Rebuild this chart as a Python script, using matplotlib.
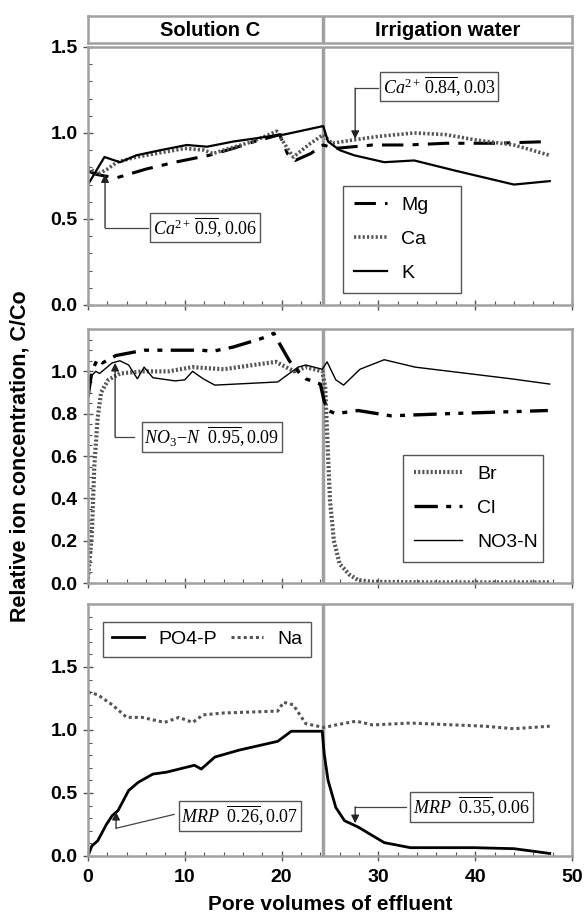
import matplotlib
matplotlib.use("Agg")
import matplotlib.pyplot as plt
from matplotlib.ticker import MultipleLocator

plt.rcParams["font.family"] = ["Liberation Sans", "DejaVu Sans"]
plt.rcParams["mathtext.fontset"] = "custom"
plt.rcParams["mathtext.rm"] = "Liberation Serif"
plt.rcParams["mathtext.it"] = "Liberation Serif:italic"
plt.rcParams["mathtext.bf"] = "Liberation Serif:bold"

# top panel: cations
k_x = [0, 1.7, 3.3, 5, 7.5, 10.2, 12.3, 15, 17.5, 19.8, 20.2, 24.3, 24.8, 26, 27.5, 30.6, 33.7, 38, 44, 47.7]
k_y = [0.70, 0.86, 0.83, 0.87, 0.90, 0.93, 0.92, 0.95, 0.97, 0.99, 0.99, 1.04, 0.95, 0.90, 0.87, 0.83, 0.84, 0.78, 0.70, 0.72]
mg_x = [0, 0.8, 1.7, 3, 6, 9, 12.5, 15, 17.2, 19.8, 20.6, 21.4, 23, 24.3, 25.5, 29.4, 33, 37, 42, 47.7]
mg_y = [0.78, 0.76, 0.75, 0.74, 0.79, 0.83, 0.87, 0.91, 0.95, 0.99, 0.88, 0.84, 0.88, 0.93, 0.91, 0.93, 0.93, 0.94, 0.94, 0.95]
ca_x = [0, 1, 2, 3, 5, 8, 10, 12, 12.9, 14, 17, 19.5, 20.6, 21.2, 23, 24.3, 25.2, 27.5, 30, 33.7, 37, 40, 44, 47.7]
ca_y = [0.80, 0.76, 0.79, 0.83, 0.86, 0.89, 0.91, 0.90, 0.88, 0.90, 0.95, 1.01, 0.91, 0.86, 0.94, 0.99, 0.94, 0.96, 0.98, 1.00, 0.99, 0.96, 0.93, 0.87]

# middle panel: anions
no3_x = [0, 0.2, 0.8, 1.2, 2.5, 3.3, 4.2, 5.1, 5.8, 6.7, 9, 10, 10.8, 11.9, 13.1, 19.6, 21.7, 22.5, 24.2, 24.7,
         25.6, 26.4, 28.1, 30.6, 33.8, 43.7, 47.7]
no3_y = [0.90, 0.97, 1.0, 0.99, 1.04, 1.05, 1.03, 0.965, 1.02, 0.97, 0.955, 0.96, 1.0, 0.965, 0.935, 0.95, 1.02, 1.03,
         1.01, 1.045, 0.96, 0.935, 1.01, 1.055, 1.02, 0.965, 0.94]
cl_x = [0, 0.4, 1, 1.5, 2.9, 5.8, 9, 11.7, 12.9, 15, 17.9, 19.2, 19.8, 20.8, 21.7, 22.5, 24, 24.4, 24.8, 25.6, 27.9,
        31.3, 37.1, 47.5]
cl_y = [0.88, 1.0, 1.06, 1.04, 1.075, 1.10, 1.10, 1.10, 1.095, 1.115, 1.155, 1.18, 1.13, 1.05, 1.0, 0.965, 0.94, 0.86,
        0.815, 0.80, 0.815, 0.79, 0.80, 0.815]
br_x = [0, 0.4, 0.65, 1, 1.35, 2.1, 3.3, 5.6, 8.3, 10.8, 14, 19.4, 21.3, 22.5, 24.2, 24.5, 24.7, 25, 25.4, 26, 27,
        27.9, 29.4, 35, 47.7]
br_y = [0.02, 0.23, 0.55, 0.78, 0.90, 0.96, 0.99, 1.0, 1.0, 1.02, 1.01, 1.045, 1.0, 1.02, 1.0, 0.93, 0.71, 0.39, 0.20,
        0.09, 0.04, 0.014, 0.006, 0.003, 0.003]

# bottom panel
po4_x = [0, 0.4, 1, 1.9, 2.5, 3.1, 4.2, 5.2, 6.7, 8.1, 11, 11.7, 13.1, 15.6, 19.6, 21, 24.2, 24.4, 24.8, 25.6, 26.5,
         27.9, 30.6, 33.3, 39.8, 44, 47.7]
po4_y = [0, 0.08, 0.12, 0.25, 0.32, 0.36, 0.52, 0.585, 0.65, 0.665, 0.72, 0.69, 0.785, 0.84, 0.91, 0.99, 0.99, 0.81,
         0.60, 0.385, 0.28, 0.23, 0.106, 0.066, 0.066, 0.058, 0.02]
na_x = [0, 1, 2.5, 4, 5.6, 7.9, 9.4, 10.8, 11.9, 14, 19.6, 20.2, 21.2, 22.5, 24.4, 25.6, 27.7, 29.4, 33.3, 41, 44, 47.7]
na_y = [1.30, 1.28, 1.2, 1.10, 1.10, 1.06, 1.10, 1.06, 1.12, 1.135, 1.15, 1.22, 1.20, 1.05, 1.02, 1.04, 1.07, 1.04,
        1.055, 1.03, 1.01, 1.03]

switch_pv = 24.3
phases = ["Solution C", "Irrigation water"]

GRAY = "#a0a0a0"
L, W = 0.1504, 0.8274

fig = plt.figure(figsize=(5.85, 9.15), dpi=100)
ax1 = fig.add_axes([L, 0.6667, W, 0.2820])
ax2 = fig.add_axes([L, 0.3628, W, 0.2776])
ax3 = fig.add_axes([L, 0.0645, W, 0.2754])
axh = fig.add_axes([L, 0.9530, W, 0.0295])


def style(ax, ymax, yticks, yminor, xlabels=False):
    ax.set_xlim(0, 50)
    ax.set_ylim(0, ymax)
    ax.xaxis.set_major_locator(MultipleLocator(10))
    ax.xaxis.set_minor_locator(MultipleLocator(2))
    ax.set_yticks(yticks)
    ax.yaxis.set_minor_locator(MultipleLocator(yminor))
    ax.tick_params(which="major", direction="inout", length=7, width=1, color="#555555",
                   labelsize=14)
    ax.tick_params(axis="y", which="major", pad=4)
    ax.tick_params(axis="x", which="major", pad=6)
    ax.tick_params(which="minor", direction="in", length=3, width=0.8, color="#555555")
    for lab in ax.get_xticklabels() + ax.get_yticklabels():
        lab.set_fontweight("bold")
    if not xlabels:
        ax.tick_params(axis="x", labelbottom=False)
    for s in ax.spines.values():
        s.set_color(GRAY)
        s.set_linewidth(1.8)
    ax.axvline(switch_pv, color=GRAY, lw=2.5, zorder=1)


def note(ax, text, xy_box, corner, tip):
    # boxed label joined to an arrow by a bent leader line
    ax.text(xy_box[0], xy_box[1], text, fontsize=13, ha="center", va="center",
            bbox=dict(boxstyle="square,pad=0.15", fc="white", ec="#555555", lw=1))
    ax.plot([corner[0], corner[2]], [corner[1], corner[3]], color="#444444", lw=0.9)
    ax.annotate("", xy=tip, xytext=(corner[2], corner[3]),
                arrowprops=dict(arrowstyle="-|>", color="#222222", lw=0.9, mutation_scale=12,
                                shrinkA=0, shrinkB=0))


leg_kw = dict(fontsize=14, fancybox=False, edgecolor="#555555", framealpha=1, borderaxespad=0)

# header
axh.set_xlim(0, 50)
axh.set_ylim(0, 1)
axh.set_xticks([])
axh.set_yticks([])
for s in axh.spines.values():
    s.set_color(GRAY)
    s.set_linewidth(1.8)
axh.axvline(switch_pv, color=GRAY, lw=2.5)
axh.text(12.6, 0.45, phases[0], ha="center", va="center", fontsize=14.5, fontweight="bold")
axh.text(37.2, 0.45, phases[1], ha="center", va="center", fontsize=14.5, fontweight="bold")

# top
style(ax1, 1.5, [0, 0.5, 1.0, 1.5], 0.1)
ax1.plot(mg_x, mg_y, color="black", lw=2.2, ls=(0, (7, 3, 2, 3)), label="Mg")
ax1.plot(ca_x, ca_y, color="#555555", lw=2.6, ls=(0, (0.6, 0.6)), label="Ca")
ax1.plot(k_x, k_y, color="black", lw=1.6, label="K")
ax1.legend(loc="lower left", bbox_to_anchor=(0.527, 0.047, 0.244, 0.43), mode="expand",
           handlelength=1.7, handletextpad=0.75, labelspacing=0.85, borderpad=0.55, **leg_kw)
note(ax1, r"$Ca^{2+}\,\overline{0.9}, 0.06$", (12.1, 0.45), (6.2, 0.45, 1.76, 0.45), (1.76, 0.76))
note(ax1, r"$Ca^{2+}\,\overline{0.84}, 0.03$", (36.3, 1.27), (30.0, 1.26, 27.6, 1.26), (27.6, 0.965))

# middle
style(ax2, 1.2, [0, 0.2, 0.4, 0.6, 0.8, 1.0], 0.05)
ax2.plot(br_x, br_y, color="#555555", lw=3, ls=(0, (0.5, 0.5)), label="Br")
ax2.plot(cl_x, cl_y, color="black", lw=2.4, ls=(0, (7, 2.5, 1.5, 2.5, 1.5, 2.5)), label="Cl")
ax2.plot(no3_x, no3_y, color="black", lw=1.0, label="NO3-N")
ax2.legend(loc="lower left", bbox_to_anchor=(0.651, 0.083, 0.289, 0.441), mode="expand",
           handlelength=2.5, handletextpad=0.75, labelspacing=0.85, borderpad=0.55, **leg_kw)
note(ax2, r"$NO_3\!-\!N\ \ \overline{0.95}, 0.09$", (12.8, 0.69), (4.8, 0.69, 2.8, 0.69), (2.8, 1.04))
ax2.set_ylabel("Relative ion concentration, C/Co", fontsize=15.5, fontweight="bold", labelpad=14)

# bottom
style(ax3, 2.0, [0, 0.5, 1.0, 1.5], 0.1, xlabels=True)
ax3.plot(po4_x, po4_y, color="black", lw=2.0, label="PO4-P")
ax3.plot(na_x, na_y, color="#555555", lw=2.2, ls=(0, (1, 1)), label="Na")
ax3.legend(loc="upper left", bbox_to_anchor=(0.031, 0.929), ncol=2, handlelength=1.65,
           handletextpad=0.75, columnspacing=0.7, borderpad=0.45, **leg_kw)
note(ax3, r"$MRP\ \ \overline{0.26}, 0.07$", (15.7, 0.32), (8.9, 0.33, 2.9, 0.22), (2.9, 0.35))
note(ax3, r"$MRP\ \ \overline{0.35}, 0.06$", (39.6, 0.39), (32.8, 0.39, 27.6, 0.39), (27.6, 0.26))
ax3.set_xlabel("Pore volumes of effluent", fontsize=15, fontweight="bold", labelpad=6)

fig.savefig("out.png", dpi=100)
